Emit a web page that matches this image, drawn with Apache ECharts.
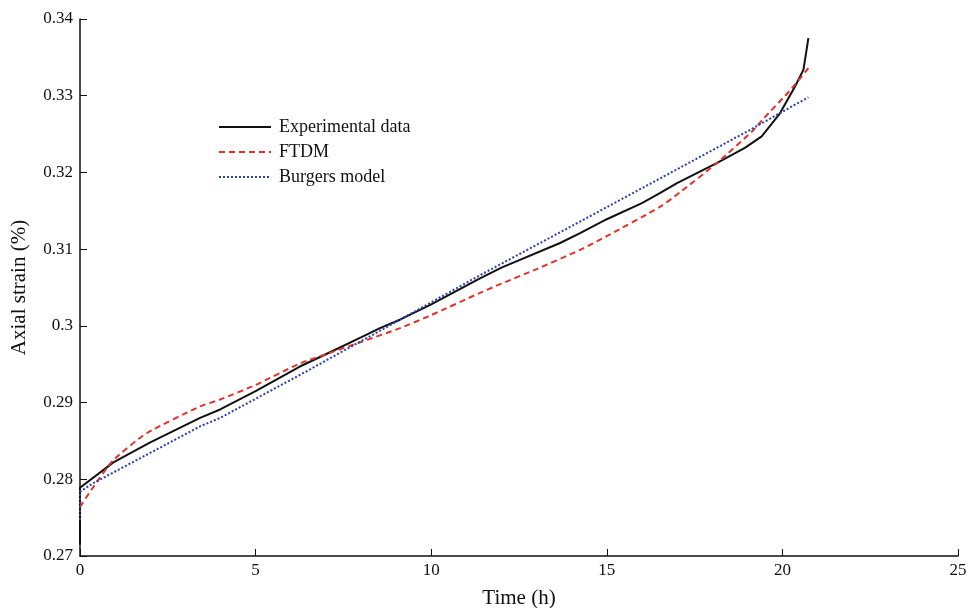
<!DOCTYPE html>
<html>
<head>
<meta charset="utf-8">
<script src="https://cdn.jsdelivr.net/npm/echarts@6/dist/echarts.min.js"></script>
<style>html,body{margin:0;padding:0;background:#fff}#c{width:969px;height:608px}</style>
</head>
<body>
<div id="c"></div>
<script>
const seriesNames = ['Experimental data', 'FTDM', 'Burgers model'];
const xTicks = [0, 5, 10, 15, 20, 25];
const yTicks = [0.27, 0.28, 0.29, 0.3, 0.31, 0.32, 0.33, 0.34];

const expTime = [0, 0, 0.95, 2, 3.42, 3.99, 5, 6.26, 7, 8, 8.54, 9.11, 10, 11.39, 12, 13.67, 14.24, 15, 16, 16.51, 17, 18.13, 18.93, 19.41, 19.93, 20.36, 20.6, 20.74];
const expStrain = [0.2715, 0.2789, 0.2822, 0.2848, 0.2880, 0.2891, 0.2915, 0.2947, 0.2963, 0.2985, 0.2997, 0.3008, 0.3028, 0.3062, 0.3076, 0.3108, 0.3121, 0.3139, 0.3160, 0.3173, 0.3186, 0.3212, 0.3232, 0.3247, 0.3277, 0.3312, 0.3334, 0.3375];

const ftdmTime = [0, 0.38, 0.95, 1.9, 3.42, 3.99, 5, 6.26, 7, 8, 9.11, 10, 11.39, 12, 13, 14.24, 15, 16.51, 17.08, 18.13, 19.17, 19.46, 20.22, 20.74];
const ftdmStrain = [0.2764, 0.2790, 0.2825, 0.2860, 0.2895, 0.2904, 0.2923, 0.2951, 0.2963, 0.2979, 0.2997, 0.3014, 0.3043, 0.3055, 0.3074, 0.3099, 0.3117, 0.3155, 0.3174, 0.3212, 0.3255, 0.3270, 0.3307, 0.3336];

const burgTime = [0, 0, 0.38, 3.42, 3.99, 6.26, 9.11, 11.39, 14.24, 16.51, 18.98, 20.74];
const burgStrain = [0.2747, 0.2784, 0.2795, 0.2869, 0.2880, 0.2936, 0.3008, 0.3066, 0.3136, 0.3192, 0.3253, 0.3298];

function pairs(t, v) { return t.map((x, i) => [x, v[i]]); }

const font = 'Liberation Serif';
const chart = echarts.init(document.getElementById('c'), null, {renderer: 'canvas'});
chart.setOption({
  animation: false,
  backgroundColor: '#fff',
  grid: {left: 80, right: 11, top: 19, bottom: 52, containLabel: false, outerBoundsMode: 'none'},
  legend: {
    orient: 'vertical', left: 218, top: 118, padding: 0,
    itemWidth: 52, itemHeight: 10, itemGap: 7,
    itemStyle: {opacity: 0},
    textStyle: {fontFamily: font, fontSize: 18, color: '#111', padding: [0, 0, 0, 3]},
    data: seriesNames
  },
  xAxis: {
    type: 'value', min: xTicks[0], max: xTicks[xTicks.length - 1], interval: 5,
    name: 'Time (h)', nameLocation: 'middle', nameGap: 32,
    nameTextStyle: {fontFamily: font, fontSize: 21, color: '#111'},
    axisLine: {show: true, lineStyle: {color: '#111', width: 1.5}},
    axisTick: {show: true, inside: true, length: 7, lineStyle: {color: '#111', width: 1}},
    axisLabel: {fontFamily: font, fontSize: 17, color: '#111', margin: 6},
    splitLine: {show: false}
  },
  yAxis: {
    type: 'value', min: yTicks[0], max: yTicks[yTicks.length - 1], interval: 0.01,
    name: 'Axial strain (%)', nameLocation: 'middle', nameGap: 50,
    nameTextStyle: {fontFamily: font, fontSize: 21, color: '#111'},
    axisLine: {show: true, lineStyle: {color: '#111', width: 1.5}},
    axisTick: {show: true, inside: true, length: 7, lineStyle: {color: '#111', width: 1}},
    axisLabel: {fontFamily: font, fontSize: 17, color: '#111', margin: 7,
      formatter: v => String(+v.toFixed(2))},
    splitLine: {show: false}
  },
  series: [
    {name: seriesNames[0], type: 'line', data: pairs(expTime, expStrain), symbol: 'none',
      lineStyle: {color: '#111', width: 2}, itemStyle: {color: '#111'}},
    {name: seriesNames[1], type: 'line', data: pairs(ftdmTime, ftdmStrain), symbol: 'none', smooth: 0.2,
      lineStyle: {color: '#e3312b', width: 2, type: [6, 4]}, itemStyle: {color: '#e3312b'}},
    {name: seriesNames[2], type: 'line', data: pairs(burgTime, burgStrain), symbol: 'none',
      lineStyle: {color: '#2b3fb0', width: 2, type: [2, 2]}, itemStyle: {color: '#2b3fb0'}}
  ]
});
</script>
</body>
</html>
